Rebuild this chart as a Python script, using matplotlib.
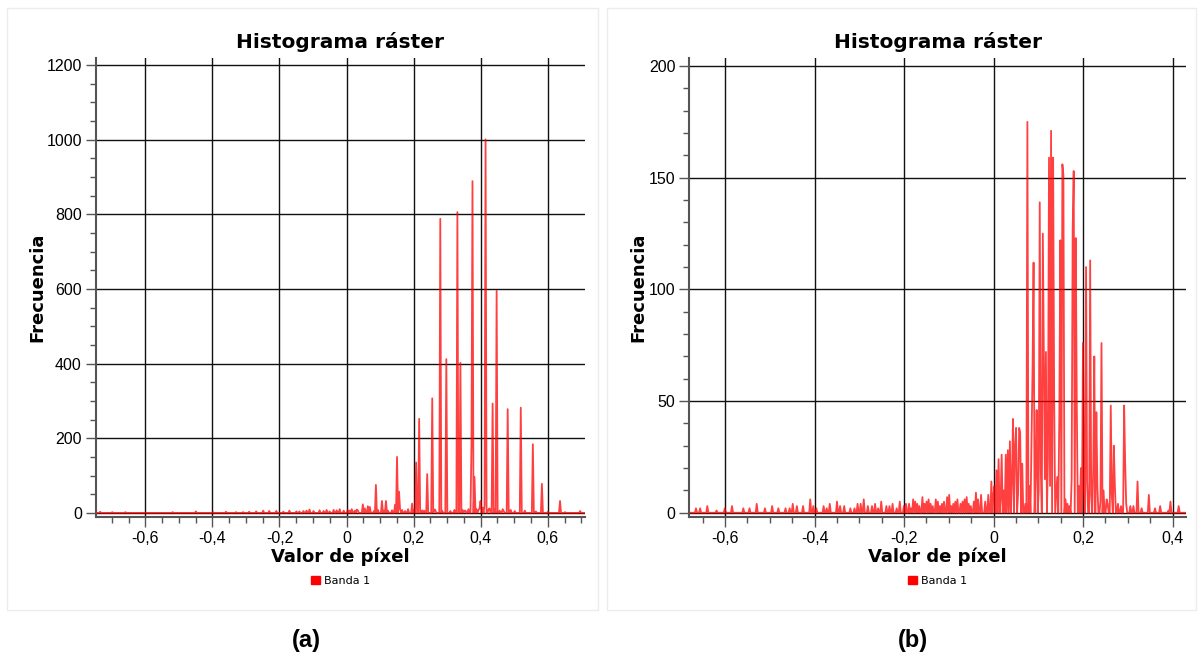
import numpy as np
import matplotlib
matplotlib.use("Agg")
import matplotlib.pyplot as plt
from matplotlib.ticker import MultipleLocator, FuncFormatter
from matplotlib.patches import Patch, Rectangle

# ---------------- data: panel (a) ----------------
spike_a_x = [0.087, 0.105, 0.117, 0.145, 0.150, 0.156, 0.194, 0.207, 0.216, 0.241,
             0.255, 0.278, 0.298, 0.329, 0.338, 0.371, 0.376, 0.381, 0.400, 0.415,
             0.435, 0.449, 0.481, 0.519, 0.554, 0.582, 0.636, 0.697]
spike_a_y = [75, 32, 32, 22, 150, 57, 25, 135, 252, 104,
             307, 788, 412, 806, 402, 182, 889, 96, 32, 1001,
             293, 595, 278, 282, 184, 78, 32, 5]

noise_a_x = [-0.735, -0.70, -0.66, -0.60, -0.52, -0.45, -0.40, -0.36, -0.31, -0.27,
             -0.25, -0.23, -0.21, -0.19, -0.17, -0.15, -0.13, -0.11, -0.10, -0.08,
             -0.06, -0.05, -0.03, -0.02, -0.01, 0.005, 0.016, 0.025, 0.035, 0.048,
             0.063, 0.070, 0.095, 0.125, 0.135, 0.165, 0.175, 0.185, 0.230, 0.265,
             0.310, 0.345, 0.355, 0.362, 0.388, 0.393, 0.405, 0.410, 0.422, 0.427,
             0.442, 0.456, 0.465, 0.470, 0.490, 0.500, 0.530, 0.565, 0.600, 0.650,
             -0.33, -0.29, -0.14, -0.12, -0.07, -0.04, 0.01, 0.03, 0.055, 0.08,
             0.11, 0.16, 0.20, 0.225, 0.26, 0.285, 0.32, 0.35, 0.365, 0.395]
noise_a_y = [3, 2, 2, 1, 2, 4, 2, 3, 2, 4,
             6, 5, 5, 3, 6, 4, 5, 9, 5, 7,
             8, 4, 7, 10, 6, 8, 10, 6, 7, 23,
             18, 16, 8, 6, 7, 8, 5, 10, 6, 8,
             5, 8, 6, 9, 10, 8, 14, 20, 10, 12,
             9, 6, 10, 5, 8, 5, 6, 4, 3, 2,
             2, 3, 4, 6, 5, 8, 6, 9, 12, 5,
             6, 10, 8, 7, 9, 5, 8, 6, 10, 12]

# ---------------- data: panel (b) ----------------
spike_b_x = [-0.028, -0.019, -0.011, -0.005, 0.000, 0.007, 0.012, 0.019, 0.027, 0.031,
             0.036, 0.044, 0.048, 0.051, 0.057, 0.060, 0.065, 0.075, 0.080, 0.084,
             0.086, 0.090, 0.093, 0.096, 0.100, 0.103, 0.106, 0.109, 0.113, 0.115,
             0.118, 0.121, 0.124, 0.126, 0.129, 0.133, 0.136, 0.139, 0.143, 0.146,
             0.150, 0.153, 0.156, 0.160, 0.165, 0.170, 0.174, 0.177, 0.180, 0.183,
             0.187, 0.190, 0.195, 0.200, 0.203, 0.206, 0.210, 0.215, 0.218, 0.222,
             0.225, 0.229, 0.233, 0.238, 0.242, 0.245, 0.252, 0.256, 0.261, 0.265,
             0.268, 0.272, 0.278, 0.284, 0.291, 0.293, 0.297, 0.305, 0.313, 0.321,
             0.330, 0.346, 0.360, 0.372, 0.390, 0.396, 0.414,
             0.003, 0.015, 0.023, 0.040, 0.054, 0.070]
spike_b_y = [8, 5, 8, 14, 8, 19, 24, 26, 26, 28,
             32, 42, 30, 38, 38, 36, 22, 175, 12, 32,
             64, 112, 18, 46, 10, 139, 20, 125, 72, 15,
             72, 25, 159, 12, 171, 159, 52, 8, 16, 42,
             122, 156, 151, 6, 4, 3, 15, 127, 153, 123,
             48, 12, 20, 76, 10, 110, 14, 113, 8, 20,
             70, 45, 12, 5, 76, 10, 6, 4, 48, 8,
             30, 12, 4, 3, 48, 22, 4, 3, 3, 14,
             2, 8, 2, 3, 1, 5, 3,
             12, 6, 10, 14, 9, 4]

noise_b_x = [-0.665, -0.655, -0.640, -0.620, -0.600, -0.585, -0.560, -0.545, -0.530, -0.510,
             -0.495, -0.480, -0.465, -0.450, -0.440, -0.425, -0.410, -0.395, -0.380, -0.365,
             -0.350, -0.335, -0.320, -0.305, -0.290, -0.280, -0.265, -0.250, -0.240, -0.225,
             -0.210, -0.200, -0.190, -0.180, -0.170, -0.160, -0.150, -0.140, -0.130, -0.120,
             -0.110, -0.100, -0.090, -0.080, -0.070, -0.060, -0.050, -0.040, -0.035,
             -0.455, -0.402, -0.372, -0.342, -0.312, -0.297, -0.272, -0.257, -0.232, -0.217,
             -0.195, -0.185, -0.175, -0.165, -0.155, -0.145, -0.135, -0.125, -0.115, -0.105,
             -0.095, -0.085, -0.075, -0.065, -0.055, -0.045]
noise_b_y = [2, 2, 3, 1, 2, 3, 2, 2, 4, 2,
             3, 2, 2, 4, 3, 3, 6, 2, 3, 4,
             5, 3, 2, 4, 6, 3, 4, 5, 3, 4,
             5, 3, 4, 6, 4, 7, 5, 4, 6, 3,
             5, 8, 4, 6, 5, 7, 3, 9, 6,
             2, 3, 2, 3, 2, 4, 3, 2, 3, 2,
             4, 2, 5, 3, 4, 6, 3, 5, 4, 7,
             3, 5, 4, 6, 4, 5]

xlim_a = (-0.748, 0.711)
ylim_a = (-11, 1219)
xlim_b = (-0.680, 0.430)
ylim_b = (-1.9, 203.6)

RED = "#ff0000"


def build_counts(xlim, width, xs_list, ys_list):
    edges = np.arange(xlim[0], xlim[1] + width, width)
    centers = edges[:-1] + width / 2
    counts = np.zeros(len(centers))
    for xs, ys in zip(xs_list, ys_list):
        for x, y in zip(xs, ys):
            i = int(np.clip(round((x - centers[0]) / width), 0, len(centers) - 1))
            counts[i] = max(counts[i], y)
    return centers, counts


def fmt(v, pos):
    if abs(v) < 1e-9:
        return "0"
    return f"{v:.1f}".replace(".", ",")


FIG_W, FIG_H = 1203, 663
fig = plt.figure(figsize=(FIG_W / 100, FIG_H / 100), dpi=100)
fig.patch.set_facecolor("white")

# panel boxes
for x0, x1 in [(7, 598), (607, 1196)]:
    fig.patches.append(Rectangle((x0 / FIG_W, 1 - 610 / FIG_H), (x1 - x0) / FIG_W,
                                 (610 - 8) / FIG_H, transform=fig.transFigure,
                                 fill=False, edgecolor="#ececec", lw=1))

tick_font = ["Liberation Sans Narrow", "Liberation Sans", "DejaVu Sans"]


def make_panel(left_px, right_px, xlim, ylim, width, xs_list, ys_list,
               xmaj, xmin, ymaj, ymin, ylabel_x_px, letter, letter_x_px):
    top_px, bot_px = 58, 517
    ax = fig.add_axes([left_px / FIG_W, 1 - bot_px / FIG_H,
                       (right_px - left_px) / FIG_W, (bot_px - top_px) / FIG_H])
    centers, counts = build_counts(xlim, width, xs_list, ys_list)
    ax.plot(centers, counts, color=RED, lw=1.3, alpha=0.75)
    ax.set_xlim(*xlim)
    ax.set_ylim(*ylim)
    ax.xaxis.set_major_locator(MultipleLocator(xmaj))
    ax.xaxis.set_minor_locator(MultipleLocator(xmin))
    ax.yaxis.set_major_locator(MultipleLocator(ymaj))
    ax.yaxis.set_minor_locator(MultipleLocator(ymin))
    ax.xaxis.set_major_formatter(FuncFormatter(fmt))
    ax.yaxis.set_major_formatter(FuncFormatter(lambda v, p: f"{int(round(v))}"))
    ax.grid(True, which="major", color="#111111", lw=1.0)
    ax.set_axisbelow(True)
    for sp in ["top", "right"]:
        ax.spines[sp].set_visible(False)
    for sp in ["left", "bottom"]:
        ax.spines[sp].set_color("#555555")
        ax.spines[sp].set_linewidth(1.5)
    ax.tick_params(which="major", length=7, width=1, color="#555555",
                   labelsize=11.5, pad=3)
    ax.tick_params(which="minor", length=4, width=1, color="#555555")
    for lab in ax.get_xticklabels() + ax.get_yticklabels():
        lab.set_family(tick_font)
    ax.set_title("Histograma ráster", fontsize=14.5, fontweight="bold",
                 family="DejaVu Sans", pad=7)
    h = bot_px - top_px
    ax.text(0.5, (bot_px - 557) / h, "Valor de píxel", transform=ax.transAxes,
            ha="center", va="center", fontsize=13, fontweight="bold", family="DejaVu Sans")
    ax.text((ylabel_x_px - left_px) / (right_px - left_px), 0.5, "Frecuencia",
            transform=ax.transAxes, rotation=90, ha="center", va="center",
            fontsize=13, fontweight="bold", family="DejaVu Sans")
    ax.legend(handles=[Patch(facecolor=RED, edgecolor=RED)], labels=["Banda 1"],
              loc="center", bbox_to_anchor=(0.5, (bot_px - 581) / h), frameon=False,
              handlelength=0.8, handleheight=0.8, handletextpad=0.4,
              prop={"family": "DejaVu Sans", "size": 8})
    fig.text(letter_x_px / FIG_W, 1 - 640 / FIG_H, letter, ha="center", va="center",
             fontsize=17, fontweight="bold", family="Liberation Sans")
    return ax


make_panel(95.7, 585, xlim_a, ylim_a, 0.003,
           [noise_a_x, spike_a_x], [noise_a_y, spike_a_y],
           0.2, 0.05, 200, 50, 37, "(a)", 306)
make_panel(689.3, 1186, xlim_b, ylim_b, 0.0023,
           [noise_b_x, spike_b_x], [noise_b_y, spike_b_y],
           0.2, 0.05, 50, 10, 638, "(b)", 913)

fig.savefig("out.png", dpi=100)
